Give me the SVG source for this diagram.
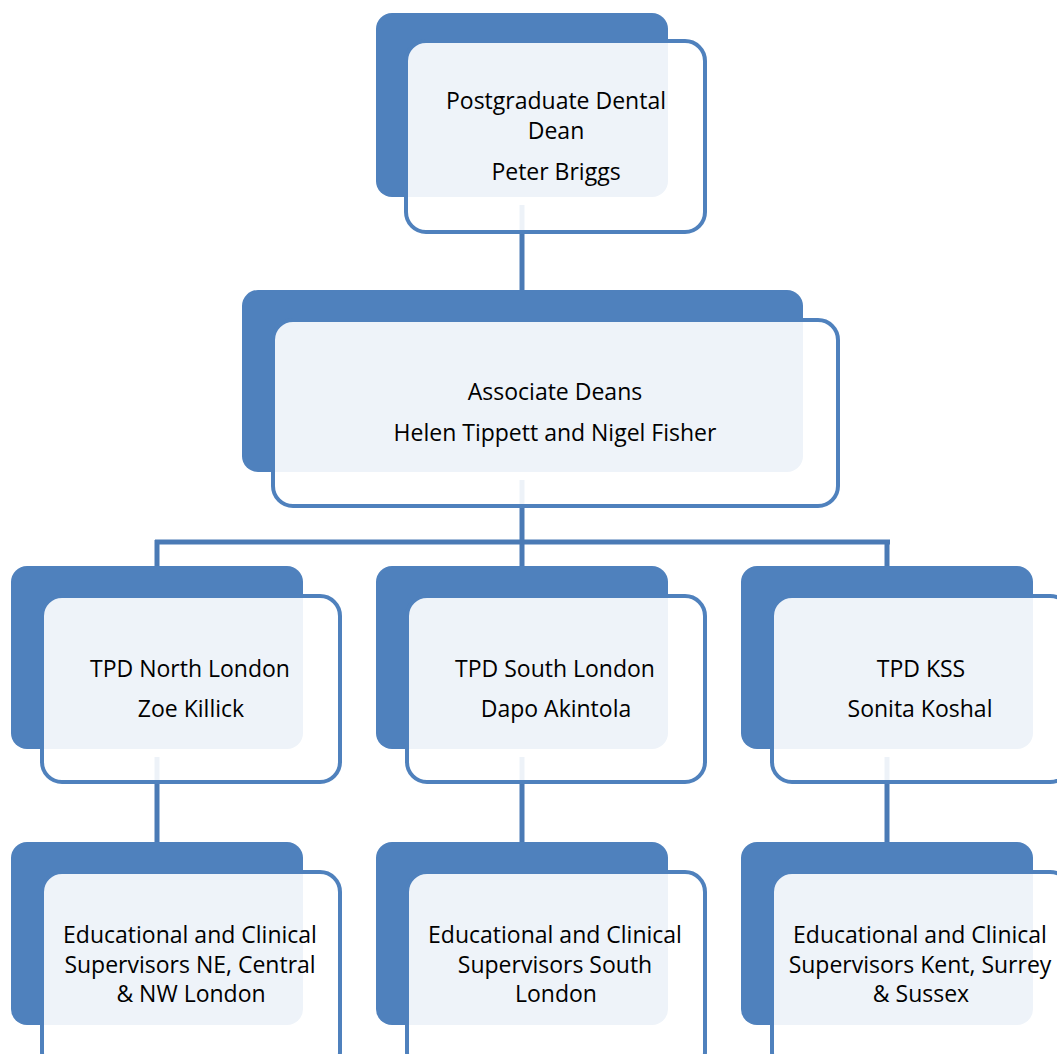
<svg xmlns="http://www.w3.org/2000/svg" width="1057" height="1054" viewBox="0 0 1057 1054">
<style>
.back{fill:#4F81BD}
.front{fill:#FFFFFF;fill-opacity:0.9;stroke:#4F81BD;stroke-width:4}
.conn{stroke:#4A7AB5;stroke-width:5;fill:none}
text{font-family:"Open Sans","Liberation Sans",sans-serif;font-size:23px;fill:#000;text-anchor:middle}
</style>
<rect width="1057" height="1054" fill="#FFFFFF"/>
<g id="connectors">
<path class="conn" d="M522 205V292"/>
<path class="conn" d="M522 480V542"/>
<path class="conn" d="M155 542H890"/>
<path class="conn" d="M157 540V568M887 540V568M522 540V568"/>
<path class="conn" d="M157 757V844M522 757V844M887 757V844"/>
</g>
<g id="n-dean">
<rect class="back" x="376" y="13" width="292" height="184" rx="16"/>
<rect class="front" x="406" y="41" width="299" height="191" rx="20"/>
<text x="556" y="109">Postgraduate Dental</text>
<text x="556" y="139">Dean</text>
<text x="556" y="180">Peter Briggs</text>
</g>
<g id="n-associate">
<rect class="back" x="242" y="290" width="561" height="182" rx="16"/>
<rect class="front" x="273" y="320" width="565" height="186" rx="20"/>
<text x="555" y="400">Associate Deans</text>
<text x="555" y="441">Helen Tippett and Nigel Fisher</text>
</g>
<g id="n-tpd-north">
<rect class="back" x="11" y="566" width="292" height="183" rx="16"/>
<rect class="front" x="42" y="596" width="298" height="186" rx="20"/>
<text x="190" y="677">TPD North London</text>
<text x="191" y="717">Zoe Killick</text>
</g>
<g id="n-tpd-south">
<rect class="back" x="376" y="566" width="292" height="183" rx="16"/>
<rect class="front" x="407" y="596" width="298" height="186" rx="20"/>
<text x="555" y="677">TPD South London</text>
<text x="556" y="717">Dapo Akintola</text>
</g>
<g id="n-tpd-kss">
<rect class="back" x="741" y="566" width="292" height="183" rx="16"/>
<rect class="front" x="772" y="596" width="298" height="186" rx="20"/>
<text x="921" y="677">TPD KSS</text>
<text x="920" y="717">Sonita Koshal</text>
</g>
<g id="n-sup-north">
<rect class="back" x="11" y="842" width="292" height="183" rx="16"/>
<rect class="front" x="42" y="872" width="298" height="200" rx="20"/>
<text x="190" y="943">Educational and Clinical</text>
<text x="190" y="973">Supervisors NE, Central</text>
<text x="191" y="1002">&amp; NW London</text>
</g>
<g id="n-sup-south">
<rect class="back" x="376" y="842" width="292" height="183" rx="16"/>
<rect class="front" x="407" y="872" width="298" height="200" rx="20"/>
<text x="555" y="943">Educational and Clinical</text>
<text x="555" y="973">Supervisors South</text>
<text x="556" y="1002">London</text>
</g>
<g id="n-sup-kss">
<rect class="back" x="741" y="842" width="292" height="183" rx="16"/>
<rect class="front" x="772" y="872" width="298" height="200" rx="20"/>
<text x="920" y="943">Educational and Clinical</text>
<text x="920" y="973">Supervisors Kent, Surrey</text>
<text x="921" y="1002">&amp; Sussex</text>
</g>
</svg>
